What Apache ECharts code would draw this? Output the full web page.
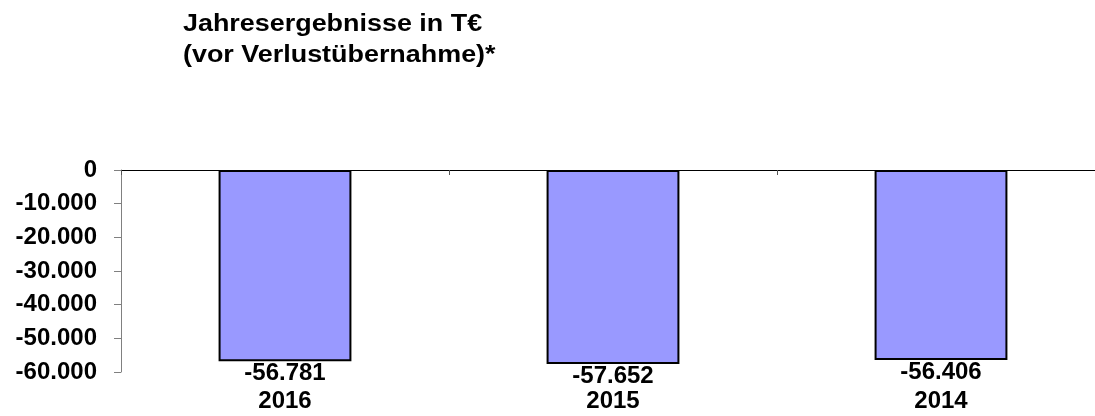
<!DOCTYPE html>
<html>
<head>
<meta charset="utf-8">
<script src="https://cdn.jsdelivr.net/npm/echarts@6/dist/echarts.min.js"></script>
<style>
  html, body { margin: 0; padding: 0; background: #fff; }
  #chart { width: 1095px; height: 416px; }
</style>
</head>
<body>
<div id="chart"></div>
<script>
// Annual results in thousand euros, before loss absorption
const years = ['2016', '2015', '2014'];
const results = [-56781, -57652, -56406];
const yTicks = [0, -10000, -20000, -30000, -40000, -50000, -60000];
const titleLines = ['Jahresergebnisse in T€', '(vor Verlustübernahme)*'];

const FONT = '"Liberation Sans", Arial, Helvetica, sans-serif';

// German thousands separator
function fmt(v) {
  const s = Math.abs(v).toString().replace(/\B(?=(\d{3})+(?!\d))/g, '.');
  return (v < 0 ? '-' : '') + s;
}

const chart = echarts.init(document.getElementById('chart'), null, { renderer: 'canvas' });

chart.setOption({
  animation: false,
  backgroundColor: '#ffffff',
  graphic: [
    {
      // wide bold heading, slightly stretched horizontally
      type: 'text',
      left: 183,
      top: 9,
      scaleX: 1.17,
      style: {
        text: titleLines.join('\n'),
        fontFamily: FONT,
        fontWeight: 'bold',
        fontSize: 23,
        lineHeight: 31,
        fill: '#000'
      }
    }
  ],
  // the last category runs slightly past the right edge of the page
  grid: { left: 121, width: 984, top: 170, bottom: 44, outerBoundsMode: 'none', containLabel: false },
  xAxis: [
    {
      type: 'category',
      data: years,
      position: 'top',
      axisLine: { onZero: false, lineStyle: { color: '#000', width: 1 } },
      axisTick: { show: true, inside: true, length: 5, lineStyle: { color: '#555' } },
      axisLabel: { show: false },
      splitLine: { show: false }
    },
    {
      type: 'category',
      data: years,
      position: 'bottom',
      axisLine: { show: false, onZero: false },
      axisTick: { show: false },
      axisLabel: {
        margin: 17,
        fontFamily: FONT,
        fontWeight: 'bold',
        fontSize: 24,
        color: '#000'
      },
      splitLine: { show: false }
    }
  ],
  yAxis: {
    type: 'value',
    min: yTicks[yTicks.length - 1],
    max: yTicks[0],
    interval: 10000,
    axisLine: { show: true, lineStyle: { color: '#808080', width: 1 } },
    axisTick: { show: true, length: 7, lineStyle: { color: '#808080' } },
    axisLabel: {
      margin: 24,
      fontFamily: FONT,
      fontWeight: 'bold',
      fontSize: 24,
      color: '#000',
      formatter: fmt
    },
    splitLine: { show: false }
  },
  series: [
    {
      type: 'bar',
      xAxisIndex: 0,
      data: results,
      barWidth: '40.5%',
      itemStyle: { color: '#9999FF', borderColor: '#000', borderWidth: 2 },
      label: {
        show: true,
        position: 'bottom',
        distance: 0,
        fontFamily: FONT,
        fontWeight: 'bold',
        fontSize: 24,
        color: '#000',
        formatter: p => fmt(p.value)
      }
    }
  ]
});
</script>
</body>
</html>
